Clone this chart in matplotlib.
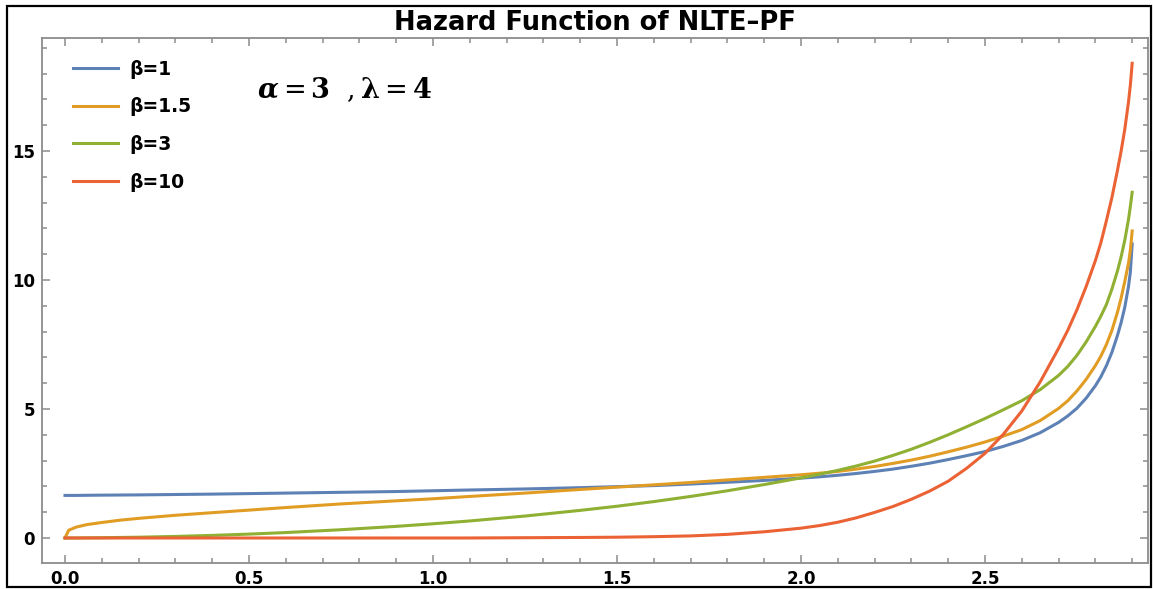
import matplotlib
matplotlib.use("Agg")
import matplotlib.pyplot as plt
from matplotlib.ticker import MultipleLocator, FormatStrFormatter
from matplotlib.patches import Rectangle

# ---- data ----
x = [0.0, 0.01, 0.03, 0.06, 0.1, 0.15, 0.2, 0.3, 0.4, 0.5, 0.6, 0.75, 0.9,
     1.0, 1.1, 1.25, 1.4, 1.5, 1.6, 1.7, 1.8, 1.9, 2.0, 2.05, 2.1, 2.15,
     2.2, 2.25, 2.3, 2.35, 2.4, 2.45, 2.5, 2.55, 2.6, 2.65, 2.7, 2.725,
     2.75, 2.775, 2.8, 2.815, 2.83, 2.845, 2.86, 2.87, 2.88, 2.89, 2.895,
     2.9]

beta_1 = [1.65, 1.65, 1.65, 1.655, 1.66, 1.665, 1.67, 1.685, 1.70, 1.72,
          1.74, 1.77, 1.80, 1.83, 1.86, 1.90, 1.95, 1.99, 2.03, 2.09, 2.16,
          2.23, 2.32, 2.37, 2.43, 2.50, 2.58, 2.67, 2.78, 2.90, 3.04, 3.19,
          3.35, 3.55, 3.78, 4.08, 4.48, 4.73, 5.03, 5.42, 5.90, 6.25, 6.68,
          7.20, 7.85, 8.35, 8.95, 9.75, 10.3, 11.4]

beta_1_5 = [0.0, 0.30, 0.42, 0.52, 0.60, 0.69, 0.76, 0.88, 0.98, 1.08, 1.18,
            1.32, 1.44, 1.52, 1.61, 1.74, 1.88, 1.97, 2.06, 2.15, 2.25, 2.35,
            2.45, 2.51, 2.58, 2.67, 2.77, 2.89, 3.02, 3.17, 3.34, 3.52, 3.72,
            3.95, 4.20, 4.55, 5.02, 5.32, 5.70, 6.15, 6.68, 7.05, 7.50, 8.05,
            8.75, 9.30, 9.95, 10.65, 11.15, 11.9]

beta_3 = [0.0, 0.0, 0.0, 0.005, 0.01, 0.02, 0.03, 0.06, 0.10, 0.15, 0.21,
          0.32, 0.45, 0.55, 0.66, 0.85, 1.07, 1.23, 1.41, 1.61, 1.83, 2.07,
          2.33, 2.47, 2.62, 2.79, 2.98, 3.20, 3.44, 3.71, 4.00, 4.31, 4.63,
          4.97, 5.32, 5.75, 6.30, 6.65, 7.08, 7.60, 8.20, 8.60, 9.05, 9.65,
          10.35, 10.9, 11.55, 12.35, 12.85, 13.4]

beta_10 = [0.0, 0.0, 0.0, 0.0, 0.0, 0.0, 0.0, 0.0, 0.0, 0.0, 0.0, 0.0, 0.0,
           0.0, 0.0, 0.01, 0.02, 0.03, 0.05, 0.08, 0.14, 0.24, 0.38, 0.48,
           0.61, 0.78, 0.99, 1.22, 1.50, 1.82, 2.20, 2.70, 3.28, 4.02, 4.92,
           6.05, 7.35, 8.05, 8.85, 9.75, 10.75, 11.45, 12.3, 13.2, 14.25,
           15.0, 15.85, 16.9, 17.55, 18.4]

series = [beta_1, beta_1_5, beta_3, beta_10]
labels = ["β=1", "β=1.5", "β=3", "β=10"]
colors = ["#5E81B5", "#E19C24", "#8FB032", "#EB6235"]

title = "Hazard Function of NLTE–PF"
note = r"$\boldsymbol{\alpha} = \mathbf{3}\ \ ,\boldsymbol{\lambda} = \mathbf{4}$"

# ---- figure ----
plt.rcParams['font.family'] = ['DejaVu Sans']
plt.rcParams['mathtext.fontset'] = 'dejavuserif'

W, H = 1153, 589
fig = plt.figure(figsize=(W / 100, H / 100), dpi=100)
L, R, T, B = 42, 1148, 38, 563
ax = fig.add_axes([L / W, (H - B) / H, (R - L) / W, (B - T) / H])

for ys, lab, c in zip(series, labels, colors):
    ax.plot(x, ys, color=c, lw=2.2, label=lab)

ax.set_xlim(-0.0625, 2.943)
ax.set_ylim(-0.97, 19.38)
ax.xaxis.set_major_locator(MultipleLocator(0.5))
ax.xaxis.set_minor_locator(MultipleLocator(0.1))
ax.yaxis.set_major_locator(MultipleLocator(5))
ax.yaxis.set_minor_locator(MultipleLocator(1))
ax.xaxis.set_major_formatter(FormatStrFormatter('%.1f'))

frame_col = '#8c8c8c'
ax.tick_params(which='both', direction='in', top=True, right=True,
               color=frame_col, labelcolor='black', width=1.1)
ax.tick_params(which='major', length=6, labelsize=12, pad=5)
ax.tick_params(which='minor', length=3.5)
for lbl in ax.get_xticklabels() + ax.get_yticklabels():
    lbl.set_fontweight('bold')
for sp in ax.spines.values():
    sp.set_color(frame_col)
    sp.set_linewidth(1.3)

ax.set_title(title, fontsize=18.5, fontweight='bold', pad=6)

ax.legend(loc='upper left', bbox_to_anchor=(0.028, 0.959), frameon=False,
          prop={'weight': 'bold', 'size': 13.5}, handlelength=2.4,
          handletextpad=0.6, labelspacing=1.0, borderpad=0, borderaxespad=0)

ax.text(0.194, 0.901, note, transform=ax.transAxes, fontsize=19.5,
        ha='left', va='center')

fig.patches.append(Rectangle((7 / W, 2 / H), 1144 / W, 581 / H,
                             transform=fig.transFigure, fill=False,
                             ec='black', lw=1.6))

fig.savefig('out.png', dpi=100)
